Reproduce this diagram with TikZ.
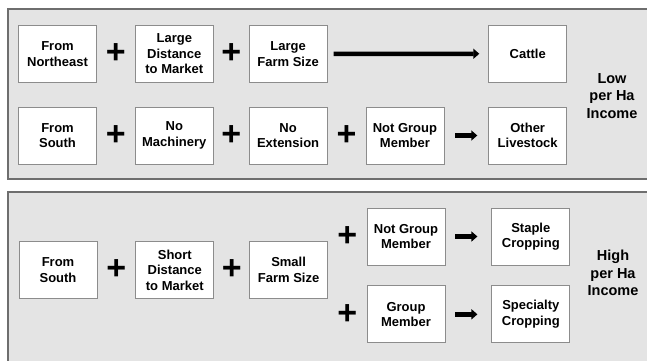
\documentclass[tikz,border=0pt]{standalone}
\usepackage{fontspec}
\setmainfont{Liberation Sans}
\usetikzlibrary{positioning,arrows.meta}
\definecolor{mpanel}{RGB}{228,228,228}
\definecolor{mframe}{RGB}{110,110,110}
\definecolor{mbox}{RGB}{140,140,140}
\tikzset{
  panel/.style={fill=mpanel,draw=mframe,line width=1.1pt},
  box/.style={rectangle,fill=white,draw=mbox,line width=0.8pt,
    minimum width=78pt,minimum height=57pt,inner sep=2pt,align=center,
    font=\fontsize{13}{15.5}\selectfont\bfseries},
  plus/.style={inner sep=0pt,font=\fontsize{34}{34}\selectfont\bfseries},
  result/.style={align=center,font=\fontsize{14.5}{17.5}\selectfont\bfseries},
  lead/.style={line width=4.5pt,-{Triangle[length=6pt,width=10pt]}}
}
\begin{document}
\begin{tikzpicture}[x=1pt,y=-1pt]
  \clip (0,0) rectangle (647,360);
  \draw[panel] (8,9) rectangle (660,179);
  \draw[panel] (8,192) rectangle (660,370);

  \node[box] (box-ne) at (57.5,54) {From\\Northeast};
  \node[box,right=38pt of box-ne] (box-ldist) {Large\\Distance\\to Market};
  \node[box,right=35pt of box-ldist] (box-lfarm) {Large\\Farm Size};
  \node[box] (box-south) at (57.5,135.5) {From\\South};
  \node[box,right=38pt of box-south] (box-mach) {No\\Machinery};
  \node[box,right=35pt of box-mach] (box-ext) {No\\Extension};
  \node[box,right=38pt of box-ext] (box-ngrp) {Not Group\\Member};
  \node[box,right=44pt of box-ngrp] (box-other) {Other\\Livestock};
  \node[box,above=24pt of box-other] (box-cattle) {Cattle};
  \node[result] (label-low) at (612,96) {Low\\per Ha\\Income};

  \path (box-ne) -- node[plus] (plus-a) {+} (box-ldist);
  \path (box-ldist) -- node[plus] (plus-b) {+} (box-lfarm);
  \path (box-south) -- node[plus] (plus-c) {+} (box-mach);
  \path (box-mach) -- node[plus] (plus-d) {+} (box-ext);
  \path (box-ext) -- node[plus] (plus-e) {+} (box-ngrp);
  \draw[lead,shorten <=6pt,shorten >=9pt] (box-lfarm) -- (box-cattle);
  \draw[lead,shorten <=11pt,shorten >=11pt] (box-ngrp) -- (box-other);

  \node[box] (box-bsouth) at (58,270) {From\\South};
  \node[box,right=38pt of box-bsouth] (box-sdist) {Short\\Distance\\to Market};
  \node[box,right=35pt of box-sdist] (box-sfarm) {Small\\Farm Size};
  \node[box] (box-bngrp) at (406,236.5) {Not Group\\Member};
  \node[box,right=46pt of box-bngrp] (box-staple) {Staple\\Cropping};
  \node[box,below=20pt of box-bngrp] (box-grp) {Group\\Member};
  \node[box,right=46pt of box-grp] (box-spec) {Specialty\\Cropping};
  \node[result] (label-high) at (613,273) {High\\per Ha\\Income};

  \path (box-bsouth) -- node[plus] (plus-f) {+} (box-sdist);
  \path (box-sdist) -- node[plus] (plus-g) {+} (box-sfarm);
  \path (box-sfarm.east |- box-bngrp.west) -- node[plus] (plus-h) {+} (box-bngrp.west);
  \path (box-sfarm.east |- box-grp.west) -- node[plus] (plus-i) {+} (box-grp.west);
  \draw[lead,shorten <=10pt,shorten >=14pt] (box-bngrp) -- (box-staple);
  \draw[lead,shorten <=10pt,shorten >=14pt] (box-grp) -- (box-spec);
\end{tikzpicture}
\end{document}
